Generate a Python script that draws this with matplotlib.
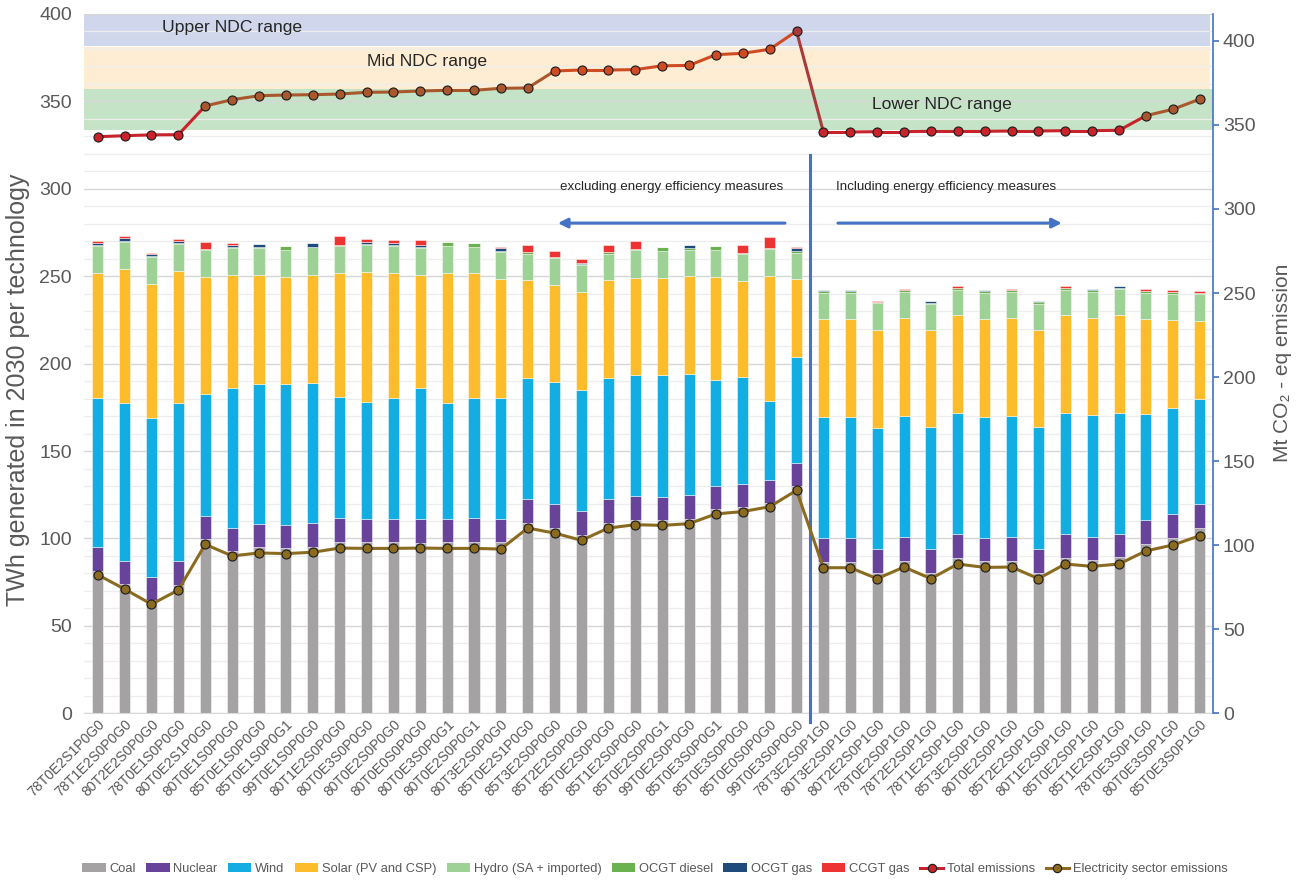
import matplotlib
matplotlib.use('Agg')
import matplotlib.pyplot as plt
import matplotlib.transforms as mtransforms
from matplotlib.patches import Rectangle, Patch
from matplotlib.lines import Line2D
from matplotlib import font_manager as fm
import numpy as np

# ---------------- data ----------------
scenarios = [
    "78T0E2S1P0G0", "78T1E2S0P0G0", "80T2E2S0P0G0", "78T0E1S0P0G0", "80T0E2S1P0G0",
    "80T0E1S0P0G0", "85T0E1S0P0G0", "85T0E1S0P0G1", "99T0E1S0P0G0", "80T1E2S0P0G0",
    "80T0E3S0P0G0", "80T0E2S0P0G0", "80T0E0S0P0G0", "80T0E3S0P0G1", "80T0E2S0P0G1",
    "80T3E2S0P0G0", "85T0E2S1P0G0", "85T3E2S0P0G0", "85T2E2S0P0G0", "85T0E2S0P0G0",
    "85T1E2S0P0G0", "85T0E2S0P0G1", "99T0E2S0P0G0", "85T0E3S0P0G1", "85T0E3S0P0G0",
    "85T0E0S0P0G0", "99T0E3S0P0G0", "78T3E2S0P1G0", "80T3E2S0P1G0", "80T2E2S0P1G0",
    "78T0E2S0P1G0", "78T2E2S0P1G0", "78T1E2S0P1G0", "85T3E2S0P1G0", "80T0E2S0P1G0",
    "85T2E2S0P1G0", "80T1E2S0P1G0", "85T0E2S0P1G0", "85T1E2S0P1G0", "78T0E3S0P1G0",
    "80T0E3S0P1G0", "85T0E3S0P1G0",
]

coal = [81.4, 74.0, 64.6, 73.4, 99.5, 92.9, 95.0, 94.4, 95.1, 97.8,
        97.8, 97.8, 97.5, 97.8, 97.8, 97.8, 109.0, 106.2, 102.2, 109.0,
        110.6, 110.6, 111.3, 116.7, 118.0, 120.5, 130.0, 86.7, 86.7, 80.4,
        87.1, 80.4, 89.0, 87.1, 87.3, 80.4, 89.0, 87.7, 89.2, 97.0,
        100.3, 105.8]
nuclear = [13.9, 13.3, 13.6, 13.7, 13.6, 13.3, 13.5, 13.5, 13.9, 13.7,
           13.4, 13.4, 13.7, 13.4, 13.7, 13.4, 13.6, 13.7, 13.5, 13.6,
           13.9, 13.3, 13.6, 13.5, 13.4, 13.1, 13.2, 13.6, 13.6, 13.8,
           13.9, 13.8, 13.6, 13.4, 13.7, 13.8, 13.6, 13.3, 13.4, 13.8,
           13.5, 13.8]
wind = [85.2, 90.4, 90.9, 90.6, 69.6, 80.1, 80.1, 80.3, 80.0, 69.6,
        67.1, 69.3, 75.1, 66.5, 69.0, 69.3, 69.4, 69.5, 69.3, 69.4,
        69.0, 69.6, 69.4, 60.5, 61.0, 45.1, 60.6, 69.2, 69.2, 69.2,
        69.3, 69.6, 69.0, 69.2, 69.3, 69.6, 69.0, 69.5, 69.4, 60.6,
        61.0, 60.4]
solar = [71.2, 76.6, 76.3, 75.2, 66.7, 64.3, 62.0, 61.4, 61.7, 71.0,
         74.2, 71.6, 64.3, 74.4, 71.2, 68.0, 55.9, 55.4, 56.2, 55.9,
         55.7, 55.7, 55.9, 58.9, 54.9, 71.5, 44.7, 56.1, 56.1, 55.9,
         55.7, 55.7, 56.1, 55.9, 55.7, 55.7, 56.1, 55.8, 55.9, 54.2,
         50.0, 44.4]
hydro = [15.6, 15.5, 15.5, 15.4, 15.5, 15.4, 15.4, 15.6, 15.9, 15.1,
         15.6, 15.1, 15.4, 15.4, 15.1, 15.6, 15.0, 15.5, 15.1, 15.0,
         15.7, 15.3, 15.0, 15.4, 15.5, 15.4, 15.0, 15.0, 15.0, 15.3,
         15.2, 14.7, 14.5, 15.0, 15.2, 14.7, 14.5, 14.9, 14.8, 15.0,
         15.2, 15.4]
ocgt_diesel = [0.6, 0.6, 0.6, 0.6, 0.8, 0.6, 0.8, 2.3, 0.4, 0.8,
               0.4, 0.8, 0.8, 2.3, 2.3, 0.6, 1.0, 0.8, 0.6, 1.0,
               0.8, 2.3, 1.0, 2.3, 0.6, 0.8, 1.0, 1.0, 1.0, 0.6,
               0.8, 0.6, 1.1, 1.0, 1.0, 1.0, 1.3, 1.0, 0.8, 0.8,
               0.8, 0.4]
ocgt_gas = [1.3, 1.3, 1.3, 1.3, 0.0, 1.3, 1.5, 0.0, 1.9, 0.0,
            1.3, 1.1, 1.3, 0.0, 0.0, 1.3, 0.0, 0.0, 0.6, 0.0,
            0.0, 0.0, 1.7, 0.0, 0.0, 0.0, 1.7, 0.6, 0.6, 0.2,
            0.2, 0.8, 0.0, 0.4, 0.0, 0.8, 0.0, 0.6, 1.1, 0.0,
            0.0, 0.0]
ccgt_gas = [1.2, 1.3, 0.6, 1.1, 3.8, 1.3, 0.0, 0.0, 0.0, 4.8,
            1.3, 1.7, 2.9, 0.0, 0.0, 0.8, 3.8, 3.6, 2.5, 3.8,
            4.2, 0.0, 0.0, 0.0, 4.2, 5.9, 0.4, 0.0, 0.0, 0.6,
            0.6, 0.0, 1.0, 0.0, 0.6, 0.0, 1.0, 0.0, 0.0, 1.3,
            1.3, 1.3]

total_emissions = [343.0, 343.6, 344.1, 344.2, 361.3, 365.0, 367.4, 367.8, 368.0, 368.4,
                   369.4, 369.6, 370.2, 370.6, 370.6, 371.8, 372.0, 382.1, 382.7, 382.7,
                   382.9, 385.2, 385.4, 391.8, 392.6, 395.0, 405.8, 345.8, 345.8, 346.0,
                   346.0, 346.2, 346.2, 346.2, 346.4, 346.4, 346.6, 346.6, 346.8, 355.5,
                   359.3, 365.3]
elec_emissions = [82.4, 73.9, 64.9, 73.3, 100.5, 93.6, 95.4, 95.0, 95.8, 98.3,
                  98.1, 98.1, 98.3, 98.1, 98.1, 97.7, 110.2, 107.2, 102.9, 110.2,
                  112.2, 111.8, 112.8, 118.6, 120.0, 122.9, 132.6, 86.6, 86.6, 80.1,
                  87.0, 80.1, 88.8, 86.8, 87.0, 80.1, 88.8, 87.4, 88.8, 96.6,
                  100.1, 105.6]

tech_names = ["Coal", "Nuclear", "Wind", "Solar (PV and CSP)", "Hydro (SA + imported)",
              "OCGT diesel", "OCGT gas", "CCGT gas"]
tech_colors = ["#A4A2A3", "#67439A", "#12ADE3", "#FDBC2C", "#9ED195",
               "#6AB150", "#1F4A7C", "#EE3333"]

ndc_bands = [("Lower NDC range", 346.9, 371.1, "#C5E3C6"),
             ("Mid NDC range", 371.5, 396.5, "#FEEDD3"),
             ("Upper NDC range", 397.2, 416.0, "#D0D6EB")]

left_ticks = list(range(0, 401, 50))
right_ticks = list(range(0, 401, 50))

# ---------------- fonts ----------------
names = {f.name for f in fm.fontManager.ttflist}
FAM = "Liberation Sans" if "Liberation Sans" in names else "DejaVu Sans"
plt.rcParams['font.family'] = [FAM, 'DejaVu Sans']

TXT = "#595959"
DARK = "#262626"

# ---------------- figure ----------------
W, H = 1301, 881
fig = plt.figure(figsize=(W / 100, H / 100), dpi=100)
x0, x1, ytop, ybot = 84.3, 1213.1, 14.0, 713.3
ax = fig.add_axes([x0 / W, 1 - ybot / H, (x1 - x0) / W, (ybot - ytop) / H])
ax2 = ax.twinx()

n = len(scenarios)
x = np.arange(n)
ax.set_xlim(-0.5, n - 0.5)
ax.set_ylim(0, 400)
ax2.set_ylim(0, 416.0)

# NDC bands (right-axis units, beneath the grid)
trans = mtransforms.blended_transform_factory(ax.transAxes, ax2.transData)
for label, lo, hi, col in ndc_bands:
    ax.add_patch(Rectangle((0, lo), 0.997 if label != "Lower NDC range" else 1.0, hi - lo,
                           transform=trans, facecolor=col, edgecolor='none', zorder=0.1))

# grid
ax.set_axisbelow(True)
ax.set_yticks(left_ticks)
ax.set_yticks(np.arange(0, 401, 10), minor=True)
ax.yaxis.grid(True, which='major', color='#D6D6D6', lw=1.0, zorder=0.5)
ax.yaxis.grid(True, which='minor', color='#EDEDED', lw=0.9, zorder=0.5)

# stacked bars
series = [coal, nuclear, wind, solar, hydro, ocgt_diesel, ocgt_gas, ccgt_gas]
bottom = np.zeros(n)
for vals, col in zip(series, tech_colors):
    v = np.array(vals)
    ax.bar(x, v, width=0.41, bottom=bottom, color=col,
           edgecolor=(1, 1, 1, 0.55), linewidth=0.6, zorder=2)
    bottom += v

# emission lines (right axis)
elec_col = "#8B6B1F"
ax2.plot(x, elec_emissions, color=elec_col, lw=2.2, marker='o', ms=6.5,
         mfc=elec_col, mec='#1a1a1a', mew=0.8, zorder=5)

tot_cols = (["#C8222B"] * 4 + ["#A8582C"] * 13 + ["#CF4B24"] * 9 + ["#A93A3C"]
            + ["#C8222B"] * 12 + ["#A8582C"] * 3)
for i in range(n - 1):
    ax2.plot(x[i:i + 2], total_emissions[i:i + 2], color=tot_cols[i],
             lw=2.2, solid_capstyle='round', zorder=5)
for i in range(n):
    ax2.plot(x[i], total_emissions[i], 'o', ms=6.5, mfc=tot_cols[i], mec='#1a1a1a',
             mew=0.8, zorder=6)

# axes styling
for s in ['top', 'left', 'right']:
    ax.spines[s].set_visible(False)
ax.spines['bottom'].set_color('#D9D9D9')
for s in ['top', 'left', 'bottom']:
    ax2.spines[s].set_visible(False)
ax2.spines['right'].set_color('#4472C4')
ax2.spines['right'].set_linewidth(1.2)

ax.tick_params(axis='y', which='both', length=0, pad=9, labelsize=14, labelcolor=TXT)
ax.tick_params(axis='x', length=0, pad=3, labelcolor=TXT)
ax2.set_yticks(right_ticks)
ax2.tick_params(axis='y', direction='out', length=4, width=1.2, color='#4472C4',
                pad=3, labelsize=14, labelcolor=TXT)

ax.set_xticks(x)
ax.set_xticklabels(scenarios, rotation=45, ha='right', rotation_mode='anchor',
                   fontsize=10.1, color=TXT)

fig.text(18 / W, 1 - 390 / H, "TWh generated in 2030 per technology", rotation=90,
         ha='center', va='center', fontsize=18, color=TXT)
fig.text(1283 / W, 1 - 363 / H, "Mt CO\u2082 - eq emission", rotation=90,
         ha='center', va='center', fontsize=15, color=TXT)

# band labels
ax2.text(5.0, 407.7, "Upper NDC range", ha='center', va='center', fontsize=12.6, color=DARK, zorder=7)
ax2.text(12.25, 388.0, "Mid NDC range", ha='center', va='center', fontsize=12.6, color=DARK, zorder=7)
ax2.text(31.4, 362.4, "Lower NDC range", ha='center', va='center', fontsize=12.6, color=DARK, zorder=7)

# separator and arrows
ax.plot([26.5, 26.5], [319.4, -5], color='#4472C4', lw=2.2, clip_on=False, zorder=4)
ax.annotate('', xy=(17.12, 280.4), xytext=(25.57, 280.4),
            arrowprops=dict(arrowstyle='-|>', color='#4472C4', lw=2.2, mutation_scale=14,
                            shrinkA=0, shrinkB=0), zorder=4)
ax.annotate('', xy=(35.87, 280.4), xytext=(27.54, 280.4),
            arrowprops=dict(arrowstyle='-|>', color='#4472C4', lw=2.2, mutation_scale=14,
                            shrinkA=0, shrinkB=0), zorder=4)
ax.text(21.37, 301, "excluding energy efficiency measures", ha='center', va='center',
        fontsize=9.6, color=DARK)
ax.text(31.56, 301, "Including energy efficiency measures", ha='center', va='center',
        fontsize=9.6, color=DARK)

# legend
handles = [Patch(facecolor=c, edgecolor='none') for c in tech_colors]
handles += [Line2D([], [], color="#C8222B", lw=2.2, marker='o', ms=6, mfc="#C8222B", mec='#1a1a1a', mew=0.8),
            Line2D([], [], color=elec_col, lw=2.2, marker='o', ms=6, mfc=elec_col, mec='#1a1a1a', mew=0.8)]
labels = tech_names + ["Total emissions", "Electricity sector emissions"]
leg = fig.legend(handles, labels, loc='center', bbox_to_anchor=(655 / W, 1 - 869 / H), ncol=10,
                 frameon=False, fontsize=9.3, handlelength=1.8, handleheight=0.75,
                 handletextpad=0.3, columnspacing=0.8, labelcolor=TXT)

fig.savefig("out.png", dpi=100)
